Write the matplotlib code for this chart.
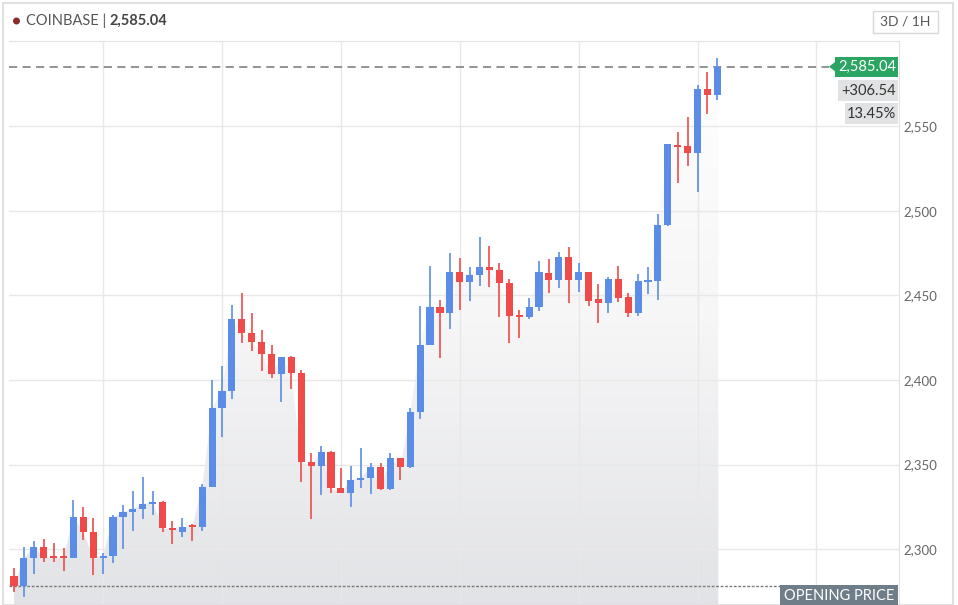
import numpy as np
import matplotlib
matplotlib.use('Agg')
import matplotlib.pyplot as plt
from matplotlib.patches import Rectangle, Polygon, Circle
from matplotlib.transforms import IdentityTransform
from matplotlib.ticker import FuncFormatter

plt.rcParams['font.family'] = ['Lato', 'DejaVu Sans']

# hourly candles, 3 days (72 x 1H)
opens = [2284.4, 2278.5, 2294.7, 2301.5, 2295.6, 2295.3, 2295.0, 2318.9, 2310.4, 2294.7,
         2296.0, 2318.9, 2321.9, 2324.0, 2326.8, 2327.8, 2312.4, 2310.4, 2313.8, 2313.0,
         2337.0, 2383.3, 2393.5, 2436.0, 2428.0, 2422.6, 2415.3, 2403.4, 2413.4, 2404.3,
         2351.4, 2349.4, 2357.3, 2336.0, 2333.1, 2340.9, 2341.9, 2348.8, 2335.4, 2353.7,
         2348.4, 2380.9, 2420.7, 2442.9, 2439.4, 2463.6, 2457.7, 2462.0, 2466.9, 2465.0,
         2457.1, 2438.0, 2437.0, 2442.9, 2463.0, 2459.1, 2472.5, 2459.1, 2463.6, 2447.7,
         2445.3, 2459.5, 2449.0, 2439.4, 2458.0, 2458.6, 2491.5, 2538.8, 2538.2, 2533.9,
         2571.9, 2568.3]
highs = [2289.0, 2301.5, 2304.9, 2306.1, 2303.7, 2300.8, 2329.1, 2324.8, 2318.3, 2297.6,
         2320.3, 2326.2, 2334.6, 2342.9, 2334.6, 2328.7, 2316.9, 2318.3, 2314.8, 2338.6,
         2400.0, 2408.3, 2444.3, 2451.6, 2439.7, 2429.5, 2420.7, 2413.6, 2414.2, 2405.9,
         2357.1, 2361.0, 2358.2, 2347.8, 2349.2, 2359.7, 2351.2, 2351.2, 2356.7, 2354.0,
         2383.3, 2443.7, 2467.5, 2447.2, 2474.8, 2471.9, 2466.9, 2484.3, 2479.1, 2468.9,
         2459.5, 2441.3, 2448.2, 2470.4, 2471.3, 2475.8, 2478.4, 2468.9, 2463.8, 2456.7,
         2460.6, 2467.5, 2451.2, 2462.4, 2466.7, 2498.0, 2539.5, 2546.6, 2555.1, 2574.2,
         2581.7, 2590.0]
lows = [2275.0, 2272.0, 2285.4, 2292.7, 2292.7, 2287.4, 2294.8, 2305.5, 2284.8, 2285.4,
        2291.7, 2300.0, 2311.0, 2317.7, 2320.1, 2310.4, 2303.1, 2307.4, 2305.1, 2311.0,
        2336.5, 2366.1, 2388.6, 2422.0, 2417.1, 2405.3, 2401.0, 2387.2, 2394.5, 2339.9,
        2317.7, 2332.1, 2333.1, 2333.0, 2325.2, 2336.0, 2332.5, 2335.0, 2335.0, 2340.9,
        2348.0, 2376.8, 2420.4, 2412.8, 2429.9, 2441.3, 2446.6, 2455.5, 2454.7, 2437.0,
        2422.0, 2424.6, 2435.8, 2440.9, 2451.6, 2454.1, 2445.6, 2452.1, 2443.7, 2433.5,
        2439.7, 2445.9, 2437.0, 2437.8, 2450.8, 2447.2, 2491.0, 2516.5, 2526.4, 2511.2,
        2557.1, 2565.4]
closes = [2278.5, 2294.7, 2301.5, 2295.0, 2295.0, 2295.0, 2318.9, 2310.4, 2294.7, 2296.0,
          2318.9, 2321.9, 2324.0, 2326.8, 2327.8, 2312.4, 2311.4, 2313.4, 2313.0, 2337.0,
          2383.3, 2393.5, 2436.0, 2427.6, 2422.6, 2415.3, 2403.4, 2413.4, 2404.3, 2351.4,
          2349.4, 2357.3, 2336.0, 2333.1, 2340.9, 2341.9, 2348.8, 2335.4, 2353.7, 2348.4,
          2380.9, 2420.7, 2442.9, 2439.4, 2463.6, 2457.7, 2462.0, 2466.9, 2465.0, 2457.1,
          2438.0, 2437.0, 2442.9, 2463.6, 2459.1, 2472.5, 2459.1, 2463.6, 2446.6, 2445.3,
          2459.5, 2448.7, 2439.4, 2458.6, 2458.6, 2491.5, 2539.2, 2537.8, 2533.9, 2571.9,
          2568.3, 2585.04]

last_price = 2585.04
open_price = 2278.50
change = last_price - open_price
change_pct = change / open_price * 100
yticks = [2300, 2350, 2400, 2450, 2500, 2550]
xgrid = [9, 21, 33, 45, 57, 69, 81]

W, H = 958, 605
fig = plt.figure(figsize=(W / 100, H / 100), dpi=100)
fig.patch.set_facecolor('white')
ax = fig.add_axes([9 / W, 0, 890 / W, 564 / H])

x = np.arange(len(closes))
o = np.array(opens); c = np.array(closes)
h = np.array(highs); l = np.array(lows)
up = c >= o
blue, red = '#5b8de6', '#ef4b4b'
colors = np.where(up, blue, red)

ax.set_xlim(-0.505, 89.34)
ax.set_ylim(2267.1, 2600.2)

# gradient area under the close price
grad = np.linspace(0, 1, 256).reshape(-1, 1)
cmap = matplotlib.colors.LinearSegmentedColormap.from_list('g', ['#e2e3e6', '#f6f6f7', '#ffffff'])
xs = np.concatenate([[x[0]], x, [x[-1] + 0.1], [x[-1] + 0.1], [x[0]]])
ys = np.concatenate([[c[0]], c, [c[-1]], [2267.1], [2267.1]])
poly = Polygon(np.column_stack([xs, ys]), closed=True, facecolor='none', edgecolor='none')
ax.add_patch(poly)
im = ax.imshow(grad, extent=[x[0], x[-1] + 0.1, 2267.1, 2600.2], origin='lower',
               cmap=cmap, aspect='auto', zorder=0.5)
im.set_clip_path(poly)

# candles
ax.vlines(x, l, h, colors=colors, linewidth=1.2, zorder=3)
body_lo = np.minimum(o, c)
body_h = np.maximum(np.abs(c - o), 1.1)
ax.bar(x, body_h, bottom=body_lo, width=0.72, color=colors, zorder=4, linewidth=0)

# price lines
ax.axhline(last_price, xmax=(829 - 9) / 890, color='#8a8a8a', lw=1.3, dashes=(4.5, 3), zorder=2)
ax.axhline(open_price, xmax=(780 - 9) / 890, color='#7a7a7a', lw=1.0, dashes=(2, 1.2), zorder=2)

ax.set_yticks(yticks)
ax.set_xticks(xgrid)
ax.yaxis.tick_right()
ax.yaxis.set_major_formatter(FuncFormatter(lambda v, p: f'{v:,.0f}'))
ax.tick_params(axis='y', length=0, pad=3, labelsize=9.5, labelcolor='#666666')
ax.tick_params(axis='x', length=0, labelbottom=False)
ax.grid(True, color='#e8e8e8', lw=1, zorder=0)
ax.set_axisbelow(True)
for s in ['left', 'bottom']:
    ax.spines[s].set_visible(False)
for s in ['top', 'right']:
    ax.spines[s].set_color('#e2e2e2')

def px(xp, yp):
    return xp / W, 1 - yp / H

def box(x0, y0, x1, y1, fc, ec='none', lw=0):
    fig.add_artist(Rectangle(px(x0, y1), (x1 - x0) / W, (y1 - y0) / H,
                             transform=fig.transFigure, facecolor=fc, edgecolor=ec, lw=lw, zorder=5))

# widget border
fig.add_artist(Rectangle(px(3, 605), 950 / W, 602 / H, transform=fig.transFigure,
                         facecolor='none', edgecolor='#e0e0e0', lw=1.5))

# header
fig.add_artist(Circle((16.5, H - 21), 3.5, transform=IdentityTransform(),
                      facecolor='#8b2c2c', edgecolor='none'))
t1 = fig.text(*px(26, 21), 'COINBASE | ', fontsize=10.5, color='#555555', va='center')
fig.canvas.draw()
bb = t1.get_window_extent()
fig.text(bb.x1 / W, 1 - 21 / H, f'{last_price:,.2f}', fontsize=10.5, color='#444444',
         fontweight='bold', va='center')

box(873, 11, 938, 33, 'white', '#d8d8d8', 1)
fig.text(*px(905.5, 22), '3D / 1H', fontsize=10, color='#555555', ha='center', va='center',
         zorder=6)

# price labels
ypx = H - ax.transData.transform((0, last_price))[1]
green = '#2aa562'
box(835, ypx - 10, 898, ypx + 10, green)
fig.add_artist(Polygon([px(829, ypx), px(835.5, ypx - 5), px(835.5, ypx + 5)], closed=True,
                       transform=fig.transFigure, facecolor=green, edgecolor='none', zorder=5))
fig.text(*px(896, ypx), f'{last_price:,.2f}', fontsize=10.5, color='white', ha='right',
         va='center', zorder=6)
box(838, ypx + 13.5, 898, ypx + 34, '#e1e2e3')
fig.text(*px(896, ypx + 24), f'+{change:,.2f}', fontsize=10.5, color='#333333', ha='right',
         va='center', zorder=6)
box(845, ypx + 36.5, 898, ypx + 57, '#e1e2e3')
fig.text(*px(896, ypx + 47), f'{change_pct:.2f}%', fontsize=10.5, color='#333333', ha='right',
         va='center', zorder=6)

box(780, 585, 898, 606, '#6e7d88')
fig.text(*px(839, 596), 'OPENING PRICE', fontsize=10.5, color='white', ha='center',
         va='center', zorder=6)

fig.savefig('out.png', dpi=100, facecolor='white')
